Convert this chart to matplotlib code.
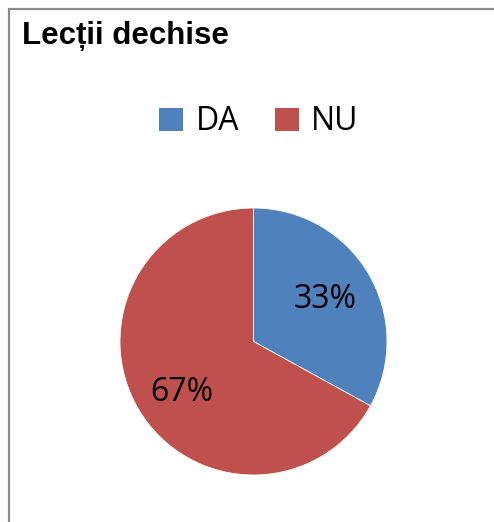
import matplotlib.pyplot as plt
from matplotlib.patches import Rectangle, Patch

# date
categorii = ['DA', 'NU']
procente = [33, 67]
culori = ['#4F81BD', '#C0504D']
titlu = 'Lecții dechise'

W, H = 494, 522
fig = plt.figure(figsize=(W / 100, H / 100), dpi=100)
fig.patch.set_facecolor('white')

# chenarul graficului (taiat la dreapta si jos)
fig.patches.append(Rectangle((9 / W, -0.1), 1.2, 1 - 9 / H + 0.1,
                             transform=fig.transFigure, fill=False,
                             edgecolor='#8c8c8c', linewidth=1.6))

fig.text(22 / W, 1 - 44 / H, titlu, fontsize=22.5, fontweight='bold',
         family='Liberation Sans', va='baseline', ha='left')

# pie
cx, cy, r = 253.5, 341.5, 133.5
ax = fig.add_axes([(cx - r) / W, (H - cy - r) / H, 2 * r / W, 2 * r / H])
wedges, texts, autotexts = ax.pie(procente, colors=culori, startangle=90,
                                  counterclock=False, autopct='%.0f%%',
                                  pctdistance=0.62,
                                  wedgeprops=dict(linewidth=0.6, edgecolor='white'),
                                  textprops=dict(fontsize=23, family='Open Sans', color='black'))
# eticheta 67% putin mai jos, ca in Excel
x, y = autotexts[1].get_position()
autotexts[1].set_position((x, y - 0.065))
ax.set_xlim(-1, 1)
ax.set_ylim(-1, 1)
ax.set_aspect('equal')

# legenda
handles = [Patch(facecolor=c, edgecolor='none') for c in culori]
fig.legend(handles, categorii, loc='center', bbox_to_anchor=(259 / W, 1 - 122 / H),
           ncol=2, frameon=False, prop=dict(family='Open Sans', size=23),
           handlelength=0.75, handleheight=0.75, handletextpad=0.4,
           columnspacing=1.1, borderpad=0)

fig.savefig('out.png', dpi=100)
